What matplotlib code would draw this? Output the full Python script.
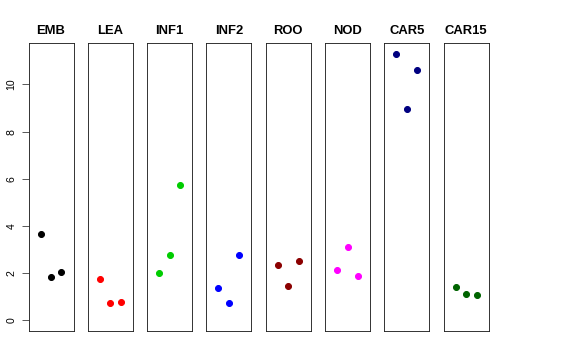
import matplotlib
matplotlib.use("Agg")
import matplotlib.pyplot as plt

plt.rcParams['font.family'] = ['Liberation Sans', 'DejaVu Sans']

tissues = ["EMB", "LEA", "INF1", "INF2", "ROO", "NOD", "CAR5", "CAR15"]
colors = ["black", "red", "#00CD00", "blue", "#8B0000", "magenta", "#000080", "#006400"]
reps = [1, 2, 3]
values = [
    [3.67, 1.82, 2.05],
    [1.75, 0.73, 0.78],
    [2.02, 2.77, 5.73],
    [1.37, 0.75, 2.75],
    [2.36, 1.45, 2.51],
    [2.13, 3.12, 1.86],
    [11.30, 8.97, 10.59],
    [1.40, 1.11, 1.08],
]
yticks = [0, 2, 4, 6, 8, 10]

W, H = 576, 360
fig = plt.figure(figsize=(W / 72, H / 72), dpi=72)

left0, step, width = 28.5, 59.3, 45.0
top, bottom = 43.3, 331.0

for i, (name, col, vals) in enumerate(zip(tissues, colors, values)):
    x0 = left0 + i * step
    ax = fig.add_axes([x0 / W, 1 - bottom / H, width / W, (bottom - top) / H])
    ax.plot(reps, vals, 'o', color=col, ms=6, mec=col)
    ax.set_xlim(-0.16, 4.16)
    ax.set_ylim(-0.45, 11.74)
    ax.set_xticks([])
    ax.set_title(name, fontsize=13, fontweight='bold', pad=9)
    for s in ax.spines.values():
        s.set_linewidth(0.9)
        s.set_color('#222222')
    if i == 0:
        ax.set_yticks(yticks)
        ax.set_yticklabels([str(t) for t in yticks], rotation=90, va='center', fontsize=10.5)
        ax.tick_params(axis='y', length=7, width=0.8, pad=5, color='#333333')
    else:
        ax.set_yticks([])

fig.savefig("out.png", dpi=72)
